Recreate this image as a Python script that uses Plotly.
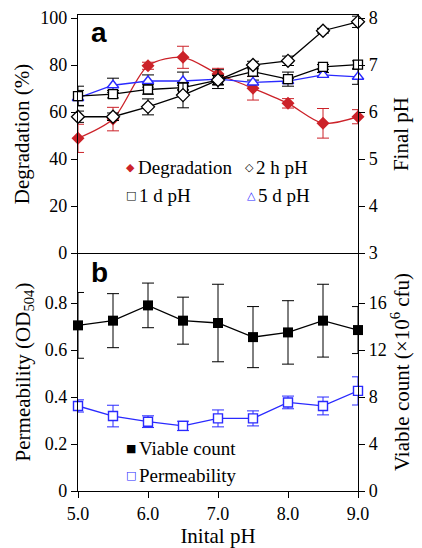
import plotly.graph_objects as go

# ---------------- data ----------------
initial_ph = [5.0, 5.5, 6.0, 6.5, 7.0, 7.5, 8.0, 8.5, 9.0]

degradation = [48.8, 57.0, 79.7, 83.3, 76.2, 70.1, 63.7, 55.2, 58.0]
degradation_err = [6.0, 5.0, 1.5, 4.7, 2.4, 5.0, 2.0, 6.3, 3.0]

ph_2h = [5.90, 5.90, 6.11, 6.36, 6.68, 7.00, 7.09, 7.73, 7.92]
ph_2h_err = [0.12, 0.08, 0.17, 0.27, 0.10, 0.08, 0.10, 0.05, 0.12]

ph_1d = [6.34, 6.38, 6.48, 6.52, 6.68, 6.86, 6.70, 6.96, 7.01]
ph_1d_err = [0.21, 0.08, 0.10, 0.05, 0.10, 0.10, 0.15, 0.05, 0.08]

ph_5d = [6.30, 6.57, 6.66, 6.66, 6.70, 6.63, 6.66, 6.79, 6.75]
ph_5d_err = [0.16, 0.15, 0.13, 0.19, 0.20, 0.05, 0.05, 0.05, 0.16]

viable_count = [14.1, 14.5, 15.8, 14.5, 14.3, 13.1, 13.5, 14.5, 13.7]
viable_count_err = [2.8, 2.3, 1.9, 2.0, 3.3, 2.6, 2.7, 3.1, 2.0]

permeability = [0.362, 0.319, 0.295, 0.277, 0.309, 0.309, 0.377, 0.362, 0.426]
permeability_err = [0.026, 0.046, 0.025, 0.020, 0.036, 0.032, 0.027, 0.038, 0.060]

x_tickvals = [5, 6, 7, 8, 9]
x_ticktext = ["5.0", "6.0", "7.0", "8.0", "9.0"]

# ---------------- style ----------------
RED = "#cc2229"
BLUE = "#2a2aff"
BLACK = "#000000"
SERIF = "Liberation Serif"
OFF = 8                      # page body margin of the html page
W, H = 422 - OFF, 548 - OFF
ML, MR, MT, MB = 78 - OFF, 64, 15 - OFF, 57


def px_x(px):
    """screen px -> paper x"""
    return (px - OFF - ML) / (W - ML - MR)


def px_y(py):
    """screen px -> paper y"""
    return (H - MB - (py - OFF)) / (H - MT - MB)


def err(arr, color):
    return dict(type="data", array=arr, visible=True, color=color,
                thickness=1, width=6)


fig = go.Figure()

# top panel: degradation (left) and pH (right)
fig.add_trace(go.Scatter(
    x=initial_ph, y=degradation, xaxis="x2", yaxis="y3",
    mode="lines+markers", line=dict(color=RED, width=1.3, shape="spline", smoothing=0.8),
    marker=dict(symbol="diamond", size=10, color=RED),
    error_y=err(degradation_err, RED), cliponaxis=False, showlegend=False))

fig.add_trace(go.Scatter(
    x=initial_ph, y=ph_5d, xaxis="x2", yaxis="y4",
    mode="lines+markers", line=dict(color=BLUE, width=1.3),
    marker=dict(symbol="triangle-up", size=10, color="white", line=dict(color=BLUE, width=1.4)),
    error_y=err(ph_5d_err, BLACK), cliponaxis=False, showlegend=False))

fig.add_trace(go.Scatter(
    x=initial_ph, y=ph_1d, xaxis="x2", yaxis="y4",
    mode="lines+markers", line=dict(color=BLACK, width=1.3),
    marker=dict(symbol="square", size=9, color="white", line=dict(color=BLACK, width=1.3)),
    error_y=err(ph_1d_err, BLACK), cliponaxis=False, showlegend=False))

fig.add_trace(go.Scatter(
    x=initial_ph, y=ph_2h, xaxis="x2", yaxis="y4",
    mode="lines+markers", line=dict(color=BLACK, width=1.3),
    marker=dict(symbol="diamond", size=10, color="white", line=dict(color=BLACK, width=1.3)),
    error_y=err(ph_2h_err, BLACK), cliponaxis=False, showlegend=False))

# bottom panel: permeability (left) and viable count (right)
fig.add_trace(go.Scatter(
    x=initial_ph, y=permeability, xaxis="x", yaxis="y",
    mode="lines+markers", line=dict(color=BLUE, width=1.3),
    marker=dict(symbol="square", size=9, color="white", line=dict(color=BLUE, width=1.4)),
    error_y=err(permeability_err, BLUE), cliponaxis=False, showlegend=False))

fig.add_trace(go.Scatter(
    x=initial_ph, y=viable_count, xaxis="x", yaxis="y2",
    mode="lines+markers", line=dict(color=BLACK, width=1.3),
    marker=dict(symbol="square", size=10, color=BLACK),
    error_y=err(viable_count_err, BLACK), cliponaxis=False, showlegend=False))

axis_common = dict(showline=True, linecolor=BLACK, linewidth=1.3, showgrid=False,
                   zeroline=False, ticks="outside", ticklen=6, tickwidth=1,
                   tickcolor=BLACK, automargin=False,
                   tickfont=dict(family=SERIF, size=18, color=BLACK))

fig.update_layout(
    width=W, height=H,
    margin=dict(l=ML, r=MR, t=MT, b=MB, autoexpand=False),
    paper_bgcolor="white", plot_bgcolor="white",
    font=dict(family=SERIF, size=18, color=BLACK),
    xaxis=dict(**axis_common, domain=[0, 1], anchor="y", range=[5, 9],
               tickvals=x_tickvals, ticktext=x_ticktext,
               title=dict(text="Inital pH", font=dict(size=21), standoff=2)),
    xaxis2=dict(domain=[0, 1], anchor="y3", range=[5, 9], matches="x",
                showline=True, linecolor=BLACK, linewidth=1.3, mirror=True,
                showticklabels=False, ticks="", showgrid=False, zeroline=False,
                automargin=False),
    yaxis=dict(**axis_common, domain=[0, 0.5], anchor="x", range=[0, 1.013],
               tickvals=[0, 0.2, 0.4, 0.6, 0.8], ticktext=["0", "0.2", "0.4", "0.6", "0.8"],
               title=dict(text="Permeability (OD<sub>504</sub>)", font=dict(size=21), standoff=8)),
    yaxis2=dict(**axis_common, overlaying="y", side="right", anchor="x", range=[0, 20.26],
                tickvals=[0, 4, 8, 12, 16],
                title=dict(text="Viable count (×10<sup>6</sup> cfu)", font=dict(size=21), standoff=6)),
    yaxis3=dict(**axis_common, domain=[0.5, 1], anchor="x2", range=[0, 101.3],
                tickvals=[0, 20, 40, 60, 80, 100],
                title=dict(text="Degradation (%)", font=dict(size=21), standoff=4)),
    yaxis4=dict(**axis_common, overlaying="y3", side="right", anchor="x2", range=[3, 8.065],
                tickvals=[3, 4, 5, 6, 7, 8],
                title=dict(text="Final pH", font=dict(size=21), standoff=16)),
)

annotations = []
# panel labels
annotations.append(dict(text="<b>a</b>", x=px_x(89), y=px_y(33), xref="paper", yref="paper",
                        xanchor="left", yanchor="middle", showarrow=False,
                        font=dict(family="Liberation Sans", size=28, color=BLACK)))
annotations.append(dict(text="<b>b</b>", x=px_x(89), y=px_y(272), xref="paper", yref="paper",
                        xanchor="left", yanchor="middle", showarrow=False,
                        font=dict(family="Liberation Sans", size=28, color=BLACK)))

# legends (symbol + label)
legend_items = [
    ("◆", RED, 130, 168, "Degradation", 136),
    ("◇", BLACK, 249, 168, "2 h pH", 254),
    ("□", BLACK, 131, 195, "1 d pH", 137),
    ("△", BLUE, 251, 195, "5 d pH", 256),
    ("■", BLACK, 131, 448, "Viable count", 137),
    ("□", BLUE, 131, 475, "Permeability", 137),
]
for sym, col, sx, sy, label, tx in legend_items:
    annotations.append(dict(text=sym, x=px_x(sx), y=px_y(sy), xref="paper", yref="paper",
                            xanchor="center", yanchor="middle", showarrow=False,
                            font=dict(family="DejaVu Sans", size=11, color=col)))
    annotations.append(dict(text=label, x=px_x(tx), y=px_y(sy), xref="paper", yref="paper",
                            xanchor="left", yanchor="middle", showarrow=False,
                            font=dict(family=SERIF, size=19, color=BLACK)))

fig.update_layout(annotations=annotations)

fig.write_html("out.html")
